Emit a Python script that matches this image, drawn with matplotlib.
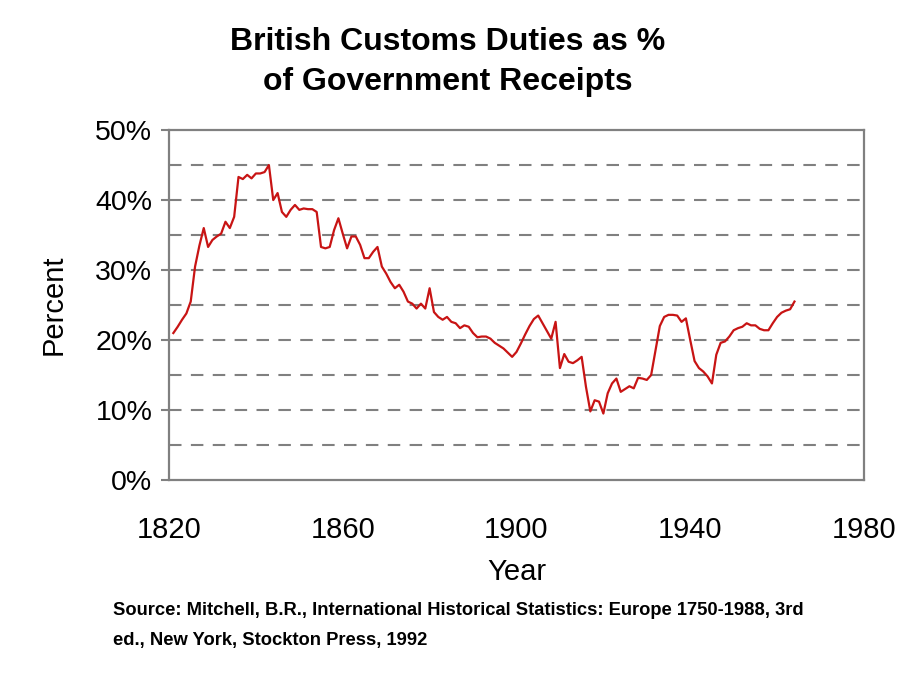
import matplotlib
matplotlib.use("Agg")
import matplotlib.pyplot as plt
from matplotlib.ticker import FuncFormatter, MultipleLocator, FixedLocator

# customs duties as % of government receipts
years = list(range(1821, 1965))
duties = [
    21.0, 21.9, 22.9, 23.8, 25.5, 30.5, 33.5, 36.0, 33.3, 34.3,   # 1821-1830
    34.8, 35.2, 36.9, 36.0, 37.6, 43.3, 43.0, 43.6, 43.1, 43.8,   # 1831-1840
    43.8, 44.0, 45.0, 40.0, 41.0, 38.3, 37.6, 38.6, 39.3, 38.6,   # 1841-1850
    38.8, 38.7, 38.7, 38.3, 33.3, 33.1, 33.3, 35.7, 37.4, 35.2,   # 1851-1860
    33.1, 34.8, 34.8, 33.6, 31.7, 31.7, 32.6, 33.3, 30.5, 29.5,   # 1861-1870
    28.3, 27.4, 27.9, 26.9, 25.5, 25.2, 24.5, 25.2, 24.5, 27.4,   # 1871-1880
    24.0, 23.3, 22.9, 23.3, 22.6, 22.4, 21.7, 22.1, 21.9, 21.0,   # 1881-1890
    20.4, 20.5, 20.5, 20.2, 19.6, 19.2, 18.8, 18.2, 17.6, 18.3,   # 1891-1900
    19.5, 20.8, 22.0, 23.0, 23.5, 22.4, 21.3, 20.2, 22.6, 16.0,   # 1901-1910
    18.0, 16.9, 16.7, 17.1, 17.6, 13.3, 9.8, 11.4, 11.2, 9.5,     # 1911-1920
    12.4, 13.8, 14.5, 12.6, 13.0, 13.4, 13.1, 14.6, 14.5, 14.3,   # 1921-1930
    15.0, 18.5, 22.0, 23.3, 23.6, 23.6, 23.5, 22.6, 23.1, 20.0,   # 1931-1940
    17.0, 16.0, 15.5, 14.8, 13.8, 17.9, 19.6, 19.8, 20.5, 21.4,   # 1941-1950
    21.7, 21.9, 22.4, 22.1, 22.1, 21.6, 21.4, 21.4, 22.4, 23.3,   # 1951-1960
    23.9, 24.2, 24.4, 25.5,                                       # 1961-1964
]
year_ticks = [1820, 1860, 1900, 1940, 1980]

title = "British Customs Duties as %\nof Government Receipts"
source = ("Source: Mitchell, B.R., International Historical Statistics: Europe 1750-1988, 3rd\n"
          "ed., New York, Stockton Press, 1992")

plt.rcParams['font.family'] = ['Liberation Sans', 'DejaVu Sans']
frame = '#808080'

fig = plt.figure(figsize=(9.2, 6.9), dpi=100)
ax = fig.add_axes([0.1837, 0.3043, 0.7554, 0.5072])

ax.plot(years, duties, color='#c81414', lw=1.6)

ax.set_xlim(1820, 1980)
ax.set_ylim(0, 50)
ax.xaxis.set_major_locator(FixedLocator(year_ticks))
ax.yaxis.set_major_locator(MultipleLocator(10))
ax.yaxis.set_major_formatter(FuncFormatter(lambda v, p: f"{v:.0f}%"))

for g in range(5, 50, 5):
    ax.axhline(g, color=frame, lw=1.5, ls=(0, (6, 4.5)), zorder=0)

for s in ax.spines.values():
    s.set_color(frame)
    s.set_linewidth(1.6)

ax.tick_params(axis='y', length=6, width=1.5, color=frame, pad=6, labelsize=20.5)
ax.tick_params(axis='x', length=0, pad=26, labelsize=21)

ax.set_xlabel("Year", fontsize=21, labelpad=10)
ax.set_ylabel("Percent", fontsize=21, labelpad=20)

fig.text(0.487, 0.91, title, ha='center', va='center', fontsize=23,
         fontweight='bold', linespacing=1.4)
fig.text(0.123, 0.094, source, ha='left', va='center', fontsize=13.2,
         fontweight='bold', linespacing=2.0)

plt.savefig('out.png', dpi=100)
